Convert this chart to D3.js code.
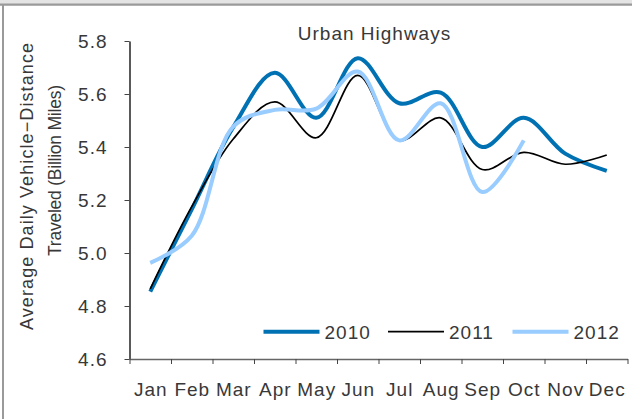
<!DOCTYPE html>
<html>
<head>
<meta charset="utf-8">
<script src="https://cdn.jsdelivr.net/npm/d3@7"></script>
<style>
body { margin: 0; background: #fff; }
svg text { font-family: "Liberation Sans", Arial, sans-serif; font-size: 19px; fill: #383838; letter-spacing: 1px; }
</style>
</head>
<body>
<svg id="chart" width="632" height="419"></svg>
<script>
// monthly values (billion miles)
var months = ["Jan", "Feb", "Mar", "Apr", "May", "Jun", "Jul", "Aug", "Sep", "Oct", "Nov", "Dec"]
var years = ["2010", "2011", "2012"]
var vmt2010 = [4.854, 5.165, 5.475, 5.68, 5.51, 5.735, 5.565, 5.605, 5.40, 5.51, 5.375, 5.31]
var vmt2011 = [4.865, 5.175, 5.43, 5.57, 5.435, 5.67, 5.425, 5.51, 5.315, 5.38, 5.335, 5.37]
var vmt2012 = [4.963, 5.065, 5.477, 5.54, 5.545, 5.685, 5.425, 5.565, 5.23, 5.425]
var yTicks = [4.6, 4.8, 5.0, 5.2, 5.4, 5.6, 5.8]

var series = [
    { name: years[0], values: vmt2010, color: "#0071b3", width: 4 },
    { name: years[1], values: vmt2011, color: "#000", width: 1.7 },
    { name: years[2], values: vmt2012, color: "#99ccff", width: 4 }
]

var svg = d3.select("#chart")

// frame of the original screenshot
svg.append("rect").attr("x", 0).attr("y", 0).attr("width", 632).attr("height", 4).attr("fill", "#e4e4e4")
svg.append("line").attr("x1", 0).attr("x2", 632).attr("y1", 4.6).attr("y2", 4.6)
    .attr("stroke", "#9a9a9a").attr("stroke-width", 2.2)
svg.append("line").attr("x1", 3).attr("x2", 3).attr("y1", 4).attr("y2", 419)
    .attr("stroke", "#9a9a9a").attr("stroke-width", 2)

var x = d3.scaleLinear().domain([0, 12]).range([129.5, 627.5])
var y = d3.scaleLinear().domain([4.6, 5.8]).range([359, 41])

// y axis
var yAxis = svg.append("g")
    .attr("transform", "translate(129.5,0)")
    .call(d3.axisLeft(y).tickValues(yTicks).tickSize(5).tickSizeOuter(0).tickPadding(17).tickFormat(d3.format(".1f")))
yAxis.select(".domain").attr("stroke", "#000").attr("stroke-width", 1.3)
yAxis.selectAll(".tick line").attr("stroke", "#444")

// x axis: ticks on month boundaries, labels in the middle
var xAxis = svg.append("g")
    .attr("transform", "translate(0,359)")
    .call(d3.axisBottom(x).tickValues(d3.range(13)).tickSize(5).tickSizeOuter(0).tickFormat(""))
xAxis.select(".domain").attr("stroke", "#666").attr("stroke-width", 1.3)
xAxis.selectAll(".tick line").attr("stroke", "#444")

var xLabels = svg.append("g")
    .attr("transform", "translate(0,359)")
    .call(d3.axisBottom(x).tickValues(d3.range(12).map(function(i) { return i + 0.5 }))
        .tickSize(0).tickPadding(23.5).tickFormat(function(d) { return months[Math.floor(d)] }))
xLabels.select(".domain").remove()

// lines
var line = d3.line()
    .x(function(d, i) { return x(i + 0.5) })
    .y(function(d) { return y(d) })
    .curve(d3.curveCatmullRom.alpha(0.5))

svg.selectAll(".series")
    .data(series)
    .join("path")
    .attr("class", "series")
    .attr("fill", "none")
    .attr("stroke", function(d) { return d.color })
    .attr("stroke-width", function(d) { return d.width })
    .attr("stroke-linejoin", "round")
    .attr("d", function(d) { return line(d.values) })

// title
svg.append("text")
    .attr("x", 374.5).attr("y", 40)
    .attr("text-anchor", "middle")
    .text("Urban Highways")

// y axis title, two lines
svg.append("text")
    .attr("transform", "translate(33,186) rotate(-90)")
    .attr("text-anchor", "middle")
    .style("font-size", "18px")
    .attr("textLength", 288).attr("lengthAdjust", "spacing")
    .text("Average Daily Vehicle\u2212Distance")
svg.append("text")
    .attr("transform", "translate(61,170) rotate(-90)")
    .attr("text-anchor", "middle")
    .style("font-size", "17.5px")
    .attr("textLength", 172).attr("lengthAdjust", "spacing")
    .text("Traveled (Billion Miles)")

// legend
var legend = svg.selectAll(".legend")
    .data(series)
    .join("g")
    .attr("class", "legend")
    .attr("transform", function(d, i) { return "translate(" + (263.5 + i * 124.5) + ",331.7)" })
legend.append("line")
    .attr("x1", 0).attr("x2", 56)
    .attr("stroke", function(d) { return d.color })
    .attr("stroke-width", function(d) { return d.width })
legend.append("text")
    .attr("x", 61).attr("y", 7.5)
    .text(function(d) { return d.name })
</script>
</body>
</html>
